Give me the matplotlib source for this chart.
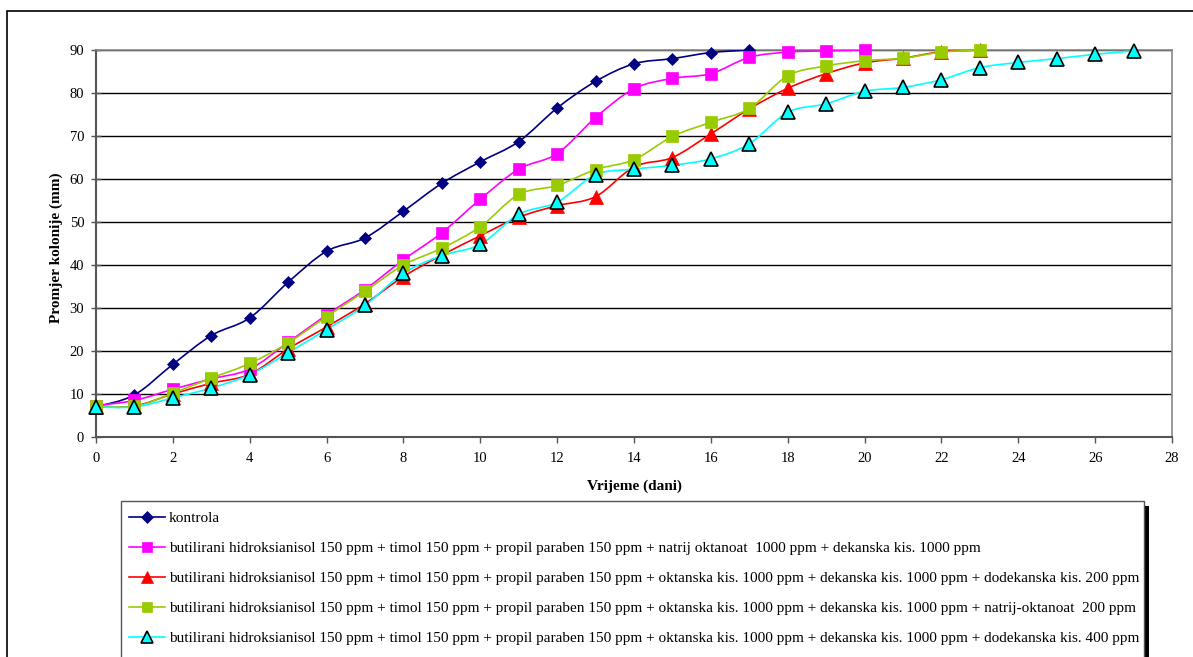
import numpy as np
import matplotlib
matplotlib.use("Agg")
import matplotlib.pyplot as plt
from matplotlib.path import Path
from matplotlib.patches import PathPatch, Rectangle
from matplotlib.lines import Line2D

plt.rcParams['font.family'] = ['Liberation Serif', 'DejaVu Serif']

# Colony diameter (mm) per day for each treatment
days_kontrola = list(range(0, 18))
kontrola = [7, 9.8, 16.9, 23.6, 27.7, 36.0, 43.2, 46.3, 52.5, 59.0, 64.0,
            68.7, 76.5, 82.7, 86.8, 88.0, 89.4, 90.0]

days_bha_natrij = list(range(0, 21))
bha_natrij = [7.3, 8.5, 11.1, 13.5, 15.8, 22.0, 28.4, 34.3, 41.2, 47.5, 55.3,
              62.3, 65.9, 74.3, 81.0, 83.4, 84.5, 88.3, 89.5, 89.8, 90.0]

days_bha_dodek200 = list(range(0, 24))
bha_dodek200 = [7.0, 7.2, 10.0, 12.5, 14.6, 20.5, 25.6, 31.0, 37.3, 42.3, 46.8,
                51.1, 53.8, 55.9, 62.8, 65.0, 70.5, 76.3, 81.1, 84.5, 87.0,
                88.1, 89.6, 90.0]

days_bha_natrij200 = list(range(0, 24))
bha_natrij200 = [7.3, 7.1, 10.2, 13.7, 17.1, 21.9, 28.0, 33.9, 40.0, 43.9, 48.9,
                 56.4, 58.5, 62.2, 64.5, 69.9, 73.2, 76.4, 84.0, 86.3, 87.5,
                 88.1, 89.5, 90.0]

days_bha_dodek400 = list(range(0, 28))
bha_dodek400 = [7.0, 7.0, 9.1, 11.4, 14.5, 19.6, 25.0, 30.6, 38.1, 42.2, 44.8,
                51.8, 54.6, 61.0, 62.3, 63.2, 64.7, 68.2, 75.5, 77.5, 80.4,
                81.3, 83.1, 85.9, 87.1, 88.0, 89.0, 89.8]

labels = [
    "kontrola",
    "butilirani hidroksianisol 150 ppm + timol 150 ppm + propil paraben 150 ppm + natrij oktanoat  1000 ppm + dekanska kis. 1000 ppm",
    "butilirani hidroksianisol 150 ppm + timol 150 ppm + propil paraben 150 ppm + oktanska kis. 1000 ppm + dekanska kis. 1000 ppm + dodekanska kis. 200 ppm",
    "butilirani hidroksianisol 150 ppm + timol 150 ppm + propil paraben 150 ppm + oktanska kis. 1000 ppm + dekanska kis. 1000 ppm + natrij-oktanoat  200 ppm",
    "butilirani hidroksianisol 150 ppm + timol 150 ppm + propil paraben 150 ppm + oktanska kis. 1000 ppm + dekanska kis. 1000 ppm + dodekanska kis. 400 ppm",
]

x_ticks = list(range(0, 29, 2))
y_ticks = list(range(0, 91, 10))

series = [
    (days_kontrola, kontrola, dict(color="#000080", marker="D", ms=6.5, mfc="#000080", mec="#000080")),
    (days_bha_natrij, bha_natrij, dict(color="#FF00FF", marker="s", ms=8.5, mfc="#FF00FF", mec="#FF00FF")),
    (days_bha_dodek200, bha_dodek200, dict(color="#FF0000", marker="^", ms=9.5, mfc="#FF0000", mec="#FF0000")),
    (days_bha_natrij200, bha_natrij200, dict(color="#99CC00", marker="s", ms=8.5, mfc="#99CC00", mec="#99CC00")),
    (days_bha_dodek400, bha_dodek400, dict(color="#00FFFF", marker="^", ms=9.5, mfc="#00FFFF", mec="#000000")),
]

W, H = 1193, 657


def fx(px):
    return px / W


def fy(py):
    return 1 - py / H


def smooth_path(xs, ys):
    """Cubic Bezier path through the points (Catmull-Rom style tangents)."""
    pts = np.column_stack([xs, ys]).astype(float)
    n = len(pts)
    verts = [pts[0]]
    codes = [Path.MOVETO]
    for i in range(n - 1):
        p0 = pts[i - 1] if i > 0 else pts[i]
        p1 = pts[i]
        p2 = pts[i + 1]
        p3 = pts[i + 2] if i + 2 < n else pts[i + 1]
        c1 = p1 + (p2 - p0) / 6.0
        c2 = p2 - (p3 - p1) / 6.0
        verts += [c1, c2, p2]
        codes += [Path.CURVE4] * 3
    return Path(verts, codes)


fig = plt.figure(figsize=(W / 100, H / 100), dpi=100)
fig.patch.set_facecolor("white")

# outer chart frame
fig.add_artist(Rectangle((fx(7), -0.1), 1.2, fy(11) + 0.1,
                         transform=fig.transFigure, fill=False,
                         edgecolor="black", lw=1.2))

ax = fig.add_axes([fx(96), fy(437), fx(1172) - fx(96), fy(50) - fy(437)])
ax.set_xlim(0, 28)
ax.set_ylim(0, 90)
ax.set_xticks(x_ticks)
ax.set_yticks(y_ticks)
ax.tick_params(axis="both", width=1, color="#555555", labelsize=10.5)
ax.tick_params(axis="y", direction="inout", length=7, pad=5)
ax.tick_params(axis="x", direction="out", length=4, pad=7)

ax.yaxis.grid(True, color="black", lw=1)
ax.set_axisbelow(True)
for side in ["left", "bottom"]:
    ax.spines[side].set_color("#555555")
    ax.spines[side].set_linewidth(1.5)
for side in ["top", "right"]:
    ax.spines[side].set_color("#888888")
    ax.spines[side].set_linewidth(1.2)

handles = []
for xs, ys, st in series:
    edge_w = 1.2 if st["mec"] == "#000000" else 0.5
    ax.add_patch(PathPatch(smooth_path(xs, ys), fill=False, edgecolor=st["color"],
                           lw=1.2, zorder=3))
    ax.plot(xs, ys, linestyle="none", marker=st["marker"], ms=st["ms"],
            mfc=st["mfc"], mec=st["mec"], mew=edge_w, zorder=4, clip_on=False)
    handles.append(Line2D([], [], color=st["color"], lw=1.2, marker=st["marker"],
                          ms=st["ms"] * 0.9, mfc=st["mfc"], mec=st["mec"], mew=edge_w))

ax.set_xlabel("Vrijeme (dani)", fontsize=11, fontweight="bold", labelpad=10.5)
ax.set_ylabel("Promjer kolonije (mm)", fontsize=11, fontweight="bold")
ax.yaxis.set_label_coords((63 - 96) / 1076, (437 - 247.5) / 387)

# legend box with a solid drop shadow
fig.add_artist(Rectangle((fx(125), -0.1), fx(1149) - fx(125), fy(506) + 0.1,
                         transform=fig.transFigure, facecolor="black",
                         edgecolor="none", zorder=5))
fig.add_artist(Rectangle((fx(120.5), -0.1), fx(1144) - fx(120.5), fy(501) + 0.1,
                         transform=fig.transFigure, facecolor="white",
                         edgecolor="#555555", lw=1.0, zorder=6))

leg = fig.legend(handles, labels, loc="upper left",
                 bbox_to_anchor=(fx(129), fy(511.5)),
                 fontsize=11, frameon=False, handlelength=2.36,
                 handletextpad=0.26, labelspacing=1.07, borderpad=0,
                 borderaxespad=0)
leg.set_zorder(7)

fig.savefig("out.png", dpi=100, facecolor="white")
